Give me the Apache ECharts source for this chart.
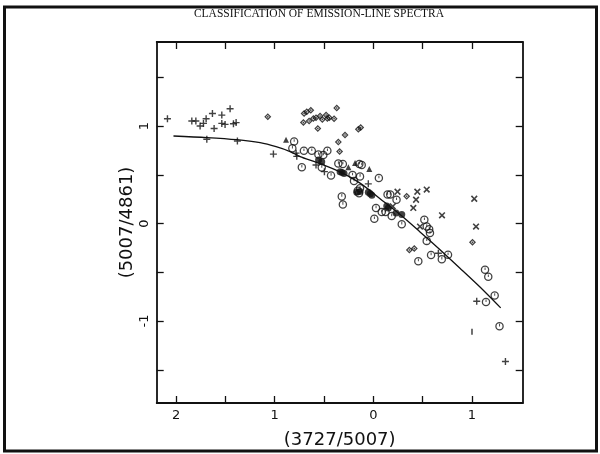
<!DOCTYPE html>
<html>
<head>
<meta charset="utf-8">
<script src="https://cdn.jsdelivr.net/npm/echarts@6/dist/echarts.min.js"></script>
<style>html,body{margin:0;padding:0;background:#fff}#c{width:600px;height:454px}</style>
</head>
<body>
<div id="c"></div>
<script>
// ---- data (x = log 3727/5007, y = log 5007/4861) ----
const plusPts = [[2.087,1.075],[1.840,1.051],[1.799,1.051],[1.756,1.000],[1.722,1.027],[1.695,1.075],[1.631,1.129],[1.536,1.112],[1.452,1.177],[1.614,0.974],[1.536,1.027],[1.503,1.017],[1.418,1.024],[1.391,1.035],[1.688,0.865],[1.378,0.847],[1.013,0.712],[0.783,0.722],[0.776,0.689],[0.581,0.600],[0.496,0.532],[0.051,0.407],[-0.659,-0.305],[-1.048,-0.797],[-1.339,-1.416]];
const crossPts = [[-0.245,0.326],[-0.446,0.326],[-0.541,0.348],[-0.433,0.244],[-0.197,0.176],[-0.405,0.160],[-0.696,0.084],[-0.473,-0.031],[-1.023,0.254],[-1.041,-0.031]];
const diamondPts = [[1.070,1.094],[0.702,1.129],[0.675,1.146],[0.634,1.163],[0.709,1.035],[0.651,1.051],[0.608,1.078],[0.581,1.085],[0.540,1.102],[0.517,1.068],[0.479,1.112],[0.466,1.078],[0.446,1.085],[0.398,1.075],[0.371,1.185],[0.563,0.974],[0.287,0.908],[0.355,0.837],[0.152,0.966],[0.128,0.984],[0.342,0.740],[-0.338,0.280],[-0.365,-0.272],[-0.415,-0.257],[-1.005,-0.193]];
const trianglePts = [[0.885,0.860],[0.253,0.577],[0.185,0.621],[0.041,0.560]];
const circlePts = [[0.803,0.841],[0.821,0.773],[0.704,0.746],[0.624,0.746],[0.557,0.707],[0.507,0.702],[0.466,0.746],[0.725,0.577],[0.523,0.575],[0.429,0.493],[0.355,0.615],[0.309,0.610],[0.211,0.498],[0.196,0.437],[0.135,0.483],[0.142,0.610],[0.118,0.600],[-0.056,0.466],[0.135,0.361],[0.158,0.336],[0.145,0.310],[0.320,0.278],[0.309,0.196],[-0.027,0.160],[-0.010,0.048],[-0.144,0.298],[-0.171,0.298],[-0.235,0.244],[-0.085,0.119],[-0.124,0.117],[-0.186,0.078],[-0.288,-0.007],[-0.517,0.038],[-0.541,-0.031],[-0.566,-0.059],[-0.574,-0.097],[-0.541,-0.178],[-0.456,-0.386],[-0.585,-0.322],[-0.694,-0.366],[-0.757,-0.320],[-1.132,-0.475],[-1.165,-0.547],[-1.230,-0.738],[-1.142,-0.804],[-1.279,-1.053]];
const blobPts = [[0.555,0.651],[0.523,0.634],[0.337,0.532],[0.317,0.524],[0.297,0.514],[0.168,0.322],[0.135,0.329],[0.051,0.322],[0.031,0.305],[0.015,0.290],[-0.136,0.180],[-0.152,0.160],[-0.230,0.107],[-0.288,0.092]];
const barPts = [[-1.000,-1.109]];
const curvePts = [[2.026,0.898],[1.688,0.882],[1.384,0.860],[1.148,0.829],[0.986,0.788],[0.844,0.738],[0.743,0.687],[0.573,0.626],[0.337,0.529],[0.135,0.414],[-0.068,0.254],[-0.271,0.092],[-0.473,-0.086],[-0.676,-0.270],[-0.878,-0.458],[-1.081,-0.651],[-1.291,-0.865]];

const xTicks = [-1,-0.5,0,0.5,1,1.5,2];
const xLabelVals = [-1,0,1,2];
const xLabelText = {'-1':'1','0':'0','1':'1','2':'2'};
const yTicks = [-1.5,-1,-0.5,0,0.5,1,1.5];
const yLabelVals = [-1,0,1];
const yLabelText = {'-1':'-1','0':'0','1':'1'};
const titleText = 'CLASSIFICATION OF EMISSION-LINE SPECTRA';
const xName = '(3727/5007)';
const yName = '(5007/4861)';

const INK = '#111';
const plusPath = 'path://M4,0h2v4h4v2h-4v4h-2v-4h-4v-2h4z';
const ringPath = 'path://M10,0A10,10 0 1,1 10,20A10,10 0 1,1 10,0Z M10,3A7,7 0 1,0 10,17A7,7 0 1,0 10,3Z M9,4.5h2.2v6h-2.2z';
const diamondPath = 'path://M10,0L20,10L10,20L0,10Z M10,5L5,10L10,15L15,10Z M10,7L13,10L10,13L7,10Z';

const axisCommon = {
  type: 'value', min: -1.514, max: 2.196, inverse: true,
  splitLine: {show: false},
  axisLine: {show: true, onZero: false, lineStyle: {color: INK, width: 1.8}},
  axisTick: {show: true, inside: true, length: 7, lineStyle: {color: INK, width: 1.3}, customValues: xTicks}
};
const yCommon = {
  type: 'value', min: -1.841, max: 1.862,
  splitLine: {show: false},
  axisLine: {show: true, onZero: false, lineStyle: {color: INK, width: 1.8}},
  axisTick: {show: true, inside: true, length: 7, lineStyle: {color: INK, width: 1.3}, customValues: yTicks}
};

const chart = echarts.init(document.getElementById('c'));
chart.setOption({
  backgroundColor: '#fff',
  animation: false,
  grid: {left: 156.7, right: 77.3, top: 42, bottom: 48},
  xAxis: [
    Object.assign({}, axisCommon, {
      position: 'bottom',
      name: xName, nameLocation: 'middle', nameGap: 28, nameMoveOverlap: false,
      nameTextStyle: {fontFamily: 'DejaVu Sans', fontSize: 18, color: INK},
      axisLabel: {show: true, customValues: xLabelVals, margin: 6, fontFamily: 'DejaVu Sans', fontSize: 13, color: INK,
        formatter: v => xLabelText[String(Math.round(v))]}
    }),
    Object.assign({}, axisCommon, {position: 'top', axisLabel: {show: false}})
  ],
  yAxis: [
    Object.assign({}, yCommon, {
      position: 'left',
      name: yName, nameLocation: 'middle', nameGap: 20, nameRotate: 90, nameMoveOverlap: false,
      nameTextStyle: {fontFamily: 'DejaVu Sans', fontSize: 18, color: INK},
      axisLabel: {show: true, customValues: yLabelVals, rotate: 90, margin: 6, fontFamily: 'DejaVu Sans', fontSize: 13, color: INK,
        formatter: v => yLabelText[String(Math.round(v))]}
    }),
    Object.assign({}, yCommon, {position: 'right', axisLabel: {show: false}})
  ],
  graphic: [
    {type: 'rect', shape: {x: 4.5, y: 7, width: 592, height: 444}, style: {fill: 'none', stroke: INK, lineWidth: 3}, silent: true},
    {type: 'text', x: 319, y: 14, style: {text: titleText, fill: INK, font: '11.5px "Liberation Serif"', align: 'center', verticalAlign: 'middle'}, silent: true}
  ],
  series: [
    {type: 'line', data: curvePts, smooth: 0.3, showSymbol: false, lineStyle: {color: INK, width: 1.3}, z: 2},
    {type: 'scatter', data: plusPts, symbol: plusPath, symbolSize: 7, itemStyle: {color: INK}, z: 3},
    {type: 'scatter', data: crossPts, symbol: plusPath, symbolSize: 8, symbolRotate: 45, itemStyle: {color: INK}, z: 3},
    {type: 'scatter', data: diamondPts, symbol: diamondPath, symbolSize: 7, itemStyle: {color: INK}, z: 3},
    {type: 'scatter', data: trianglePts, symbol: 'triangle', symbolSize: 6, itemStyle: {color: INK}, z: 3},
    {type: 'scatter', data: circlePts, symbol: ringPath, symbolSize: 8.5, itemStyle: {color: INK}, z: 3},
    {type: 'scatter', data: blobPts, symbol: 'circle', symbolSize: 7, itemStyle: {color: INK}, z: 3},
    {type: 'scatter', data: barPts, symbol: 'rect', symbolSize: [1.5, 6], itemStyle: {color: INK}, z: 3}
  ]
});
</script>
</body>
</html>
